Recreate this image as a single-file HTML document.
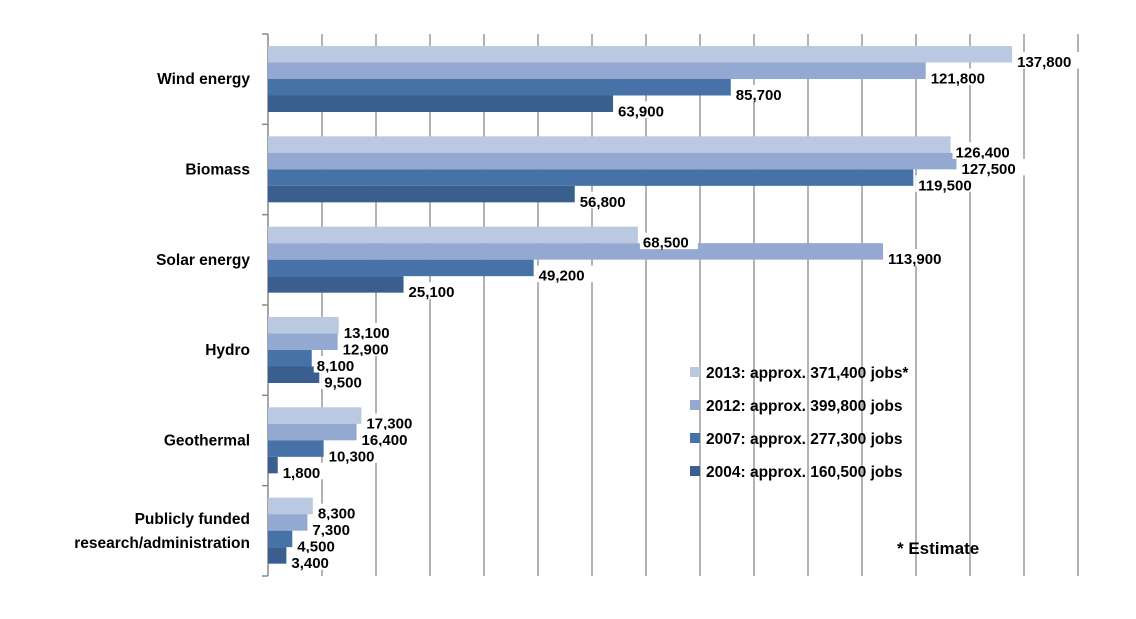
<!DOCTYPE html>
<html><head><meta charset="utf-8"><style>
body{margin:0;background:#fff;width:1136px;height:614px;overflow:hidden;font-family:"Liberation Sans",sans-serif}
svg text{font-family:"Liberation Sans",sans-serif;font-weight:bold}
</style></head><body>
<svg id="c" width="1136" height="614"></svg>
<script>
const categories=["Wind energy","Biomass","Solar energy","Hydro","Geothermal","Publicly funded|research/administration"];
const years=["2013","2012","2007","2004"];
const v2013=[137800,126400,68500,13100,17300,8300];
const v2012=[121800,127500,113900,12900,16400,7300];
const v2007=[85700,119500,49200,8100,10300,4500];
const v2004=[63900,56800,25100,9500,1800,3400];
const legendLabels=["2013: approx. 371,400 jobs*","2012: approx. 399,800 jobs","2007: approx. 277,300 jobs","2004: approx. 160,500 jobs"];
const colors=["#bac8e2","#94a9d1","#4672a8","#3a5e8e"];
const series=[v2013,v2012,v2007,v2004];
const X0=268,X1=1078,XMAX=150000,Y0=34,Y1=576;
const x=v=>X0+v/XMAX*(X1-X0);
const band=(Y1-Y0)/categories.length;
const NS="http://www.w3.org/2000/svg";
const svg=document.getElementById('c');
function mk(t,a,p){const e=document.createElementNS(NS,t);for(const k in a)e.setAttribute(k,a[k]);(p||svg).appendChild(e);return e;}
for(let g=10000;g<=XMAX;g+=10000){const l=mk('line',{x1:x(g),x2:x(g),y1:Y0,y2:Y1,stroke:'#9a9a9a','stroke-width':1.5});

}
const ax=mk('line',{x1:X0,x2:X0,y1:Y0,y2:Y1,stroke:'#888','stroke-width':1.5});


for(let i=0;i<=categories.length;i++){mk('line',{x1:X0-6,x2:X0,y1:Y0+i*band,y2:Y0+i*band,stroke:'#888','stroke-width':1.5});}
const bh=16.5;
const labels=[];
categories.forEach((c,i)=>{
 const top=Y0+i*band+12;
 const lines=c.split('|');
 const cy=Y0+i*band+band/2;
 lines.forEach((ln,j)=>{const t=mk('text',{x:250,y:cy+5+(j-(lines.length-1)/2)*24,'text-anchor':'end','font-size':15.5,fill:'#000'});t.textContent=ln;
 
 });
 series.forEach((s,k)=>{
  const y=top+k*bh;
  const r=mk('rect',{x:X0,y:y,width:x(s[i])-X0,height:bh,fill:colors[k]});
  
  
  labels.push([s[i],y]);
 });
});
labels.forEach(([v,y])=>{
  const txt=v.toLocaleString('en-US');
  const tw=txt.length*9+4;
  mk('rect',{x:x(v)+2,y:y+6,width:tw,height:bh,fill:'#fff'});
  const t=mk('text',{x:x(v)+5,y:y+bh+4.5,'font-size':15,fill:'#000'});
  t.textContent=txt;
  
  
});
legendLabels.forEach((l,k)=>{
 const y=373+k*33;
 const g=mk('g',{});
 
 
 mk('rect',{x:690,y:y-6,width:10,height:10,fill:colors[k]},g);
 const t=mk('text',{x:706,y:y+5,'font-size':15.5,fill:'#000'},g);t.textContent=l;
});
const e=mk('text',{x:897,y:554,'font-size':17,fill:'#000'});e.textContent='* Estimate';


</script>
</body></html>
